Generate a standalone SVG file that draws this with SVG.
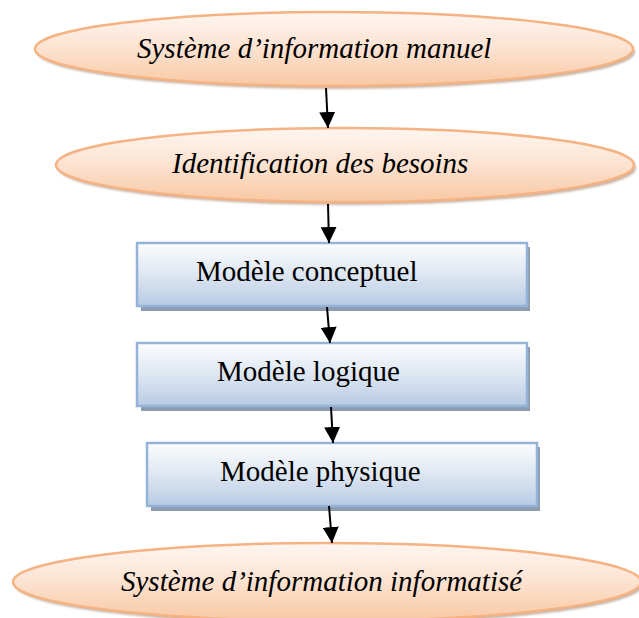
<svg xmlns="http://www.w3.org/2000/svg" width="639" height="618" viewBox="0 0 639 618">
<defs>
<linearGradient id="gE" x1="0" y1="0" x2="0" y2="1">
<stop offset="0" stop-color="#fef6f1"/>
<stop offset="0.5" stop-color="#fce2d0"/>
<stop offset="1" stop-color="#f8c8a3"/>
</linearGradient>
<linearGradient id="gB" x1="0" y1="0" x2="0" y2="1">
<stop offset="0" stop-color="#fcfdfe"/>
<stop offset="0.5" stop-color="#dde6f1"/>
<stop offset="1" stop-color="#b8cbe4"/>
</linearGradient>
<filter id="blur" x="-5%" y="-20%" width="110%" height="140%">
<feGaussianBlur stdDeviation="1"/>
</filter>
<marker id="ah" viewBox="0 0 16 16" refX="16" refY="8" markerWidth="16" markerHeight="16" markerUnits="userSpaceOnUse" orient="auto">
<path d="M0,0 L16,8 L0,16 Z" fill="#000"/>
</marker>
</defs>
<style>
.es{fill:#b59a86;opacity:0.75;filter:url(#blur)}
.e{fill:url(#gE);stroke:#f5b283;stroke-width:2.5}
.bs{fill:#8e9cb0}
.b{fill:url(#gB);stroke:#95b3d7;stroke-width:2.5}
.ti{font-family:"Liberation Serif","Times New Roman",serif;font-style:italic;font-size:29px;fill:#000}
.t{font-family:"Liberation Serif","Times New Roman",serif;font-size:29px;fill:#000}
.c{stroke:#000;stroke-width:2;fill:none;marker-end:url(#ah)}
</style>
<rect width="639" height="618" fill="#fff"/>
<g id="n1">
<ellipse class="es" cx="336" cy="52" rx="299" ry="37"/>
<ellipse class="e" cx="334" cy="49" rx="299" ry="37"/>
<text class="ti" x="137" y="58">Système d’information manuel</text>
</g>
<g id="n2">
<ellipse class="es" cx="347" cy="168" rx="289" ry="37"/>
<ellipse class="e" cx="345" cy="165" rx="289" ry="37"/>
<text class="ti" x="172" y="173">Identification des besoins</text>
</g>
<g id="n3">
<rect class="bs" x="141" y="247" width="389" height="64"/>
<rect class="b" x="137" y="243" width="390" height="63"/>
<text class="t" x="196" y="281">Modèle conceptuel</text>
</g>
<g id="n4">
<rect class="bs" x="141" y="347" width="389" height="64"/>
<rect class="b" x="137" y="343" width="390" height="63"/>
<text class="t" x="217" y="381">Modèle logique</text>
</g>
<g id="n5">
<rect class="bs" x="151" y="447" width="389" height="64"/>
<rect class="b" x="147" y="443" width="390" height="63"/>
<text class="t" x="220" y="481">Modèle physique</text>
</g>
<g id="n6">
<ellipse class="es" cx="329" cy="585" rx="314" ry="39"/>
<ellipse class="e" cx="327" cy="582" rx="314" ry="39"/>
<text class="ti" x="121" y="591">Système d’information informatisé</text>
</g>
<g id="connectors">
<line class="c" x1="326" y1="88" x2="328" y2="128"/>
<line class="c" x1="328" y1="204" x2="329" y2="243"/>
<line class="c" x1="327" y1="307" x2="330" y2="343"/>
<line class="c" x1="331" y1="407" x2="333" y2="443"/>
<line class="c" x1="329" y1="506" x2="332" y2="543"/>
</g>
</svg>
